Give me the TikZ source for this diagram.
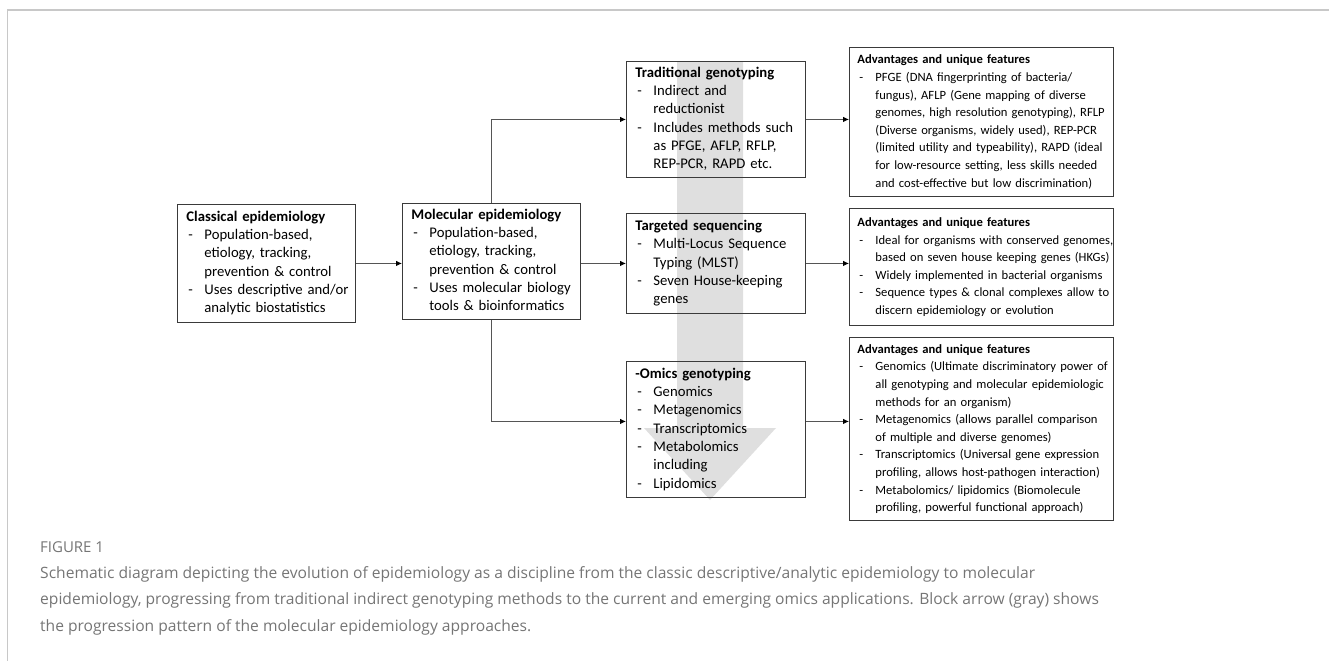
\documentclass[tikz,border=0pt]{standalone}
\usepackage{fontspec}
\setmainfont{Carlito}
\newfontfamily\capfont{Open Sans}
\usetikzlibrary{arrows.meta,calc}
\definecolor{boxline}{HTML}{3A3A3A}
\definecolor{conline}{HTML}{555555}
\definecolor{blockgray}{HTML}{DFDFDF}
\definecolor{frameline}{HTML}{C8C8C8}
\definecolor{captext}{HTML}{757575}
\newcommand{\smallboxfont}{\fontsize{14.7}{18.3}\selectfont}
\newcommand{\advfont}{\fontsize{12.6}{17.6}\selectfont}
\newcommand{\boxtab}[2]{\noindent\begin{tabular}{@{\hspace{2pt}}p{16pt}@{}l@{}}\multicolumn{2}{@{}l@{}}{\textbf{#1}}\\#2\end{tabular}}
\tikzset{
  box/.style={draw=boxline, line width=0.9pt, anchor=north west, inner xsep=9pt, inner ysep=0pt, font=\smallboxfont},
  advbox/.style={box, inner xsep=8pt, font=\advfont},
  con/.style={draw=conline, line width=0.8pt, -{Latex[length=6pt,width=5.5pt,color=black]}},
  captxt/.style={anchor=base west, inner sep=0pt, text=captext, font=\capfont\fontsize{15.6}{26}\selectfont}
}
\begin{document}
\begin{tikzpicture}[x=1pt,y=1pt]
\useasboundingbox (0,0) rectangle (1329,-661);
% frame
\draw[frameline, line width=1.2pt] (7,-10) -- (1329,-10);
\draw[frameline, line width=0.8pt] (7,-10) -- (7,-661);
% gray block arrow
\fill[blockgray] (677,-61) -- (743,-61) -- (743,-428) -- (776,-428) -- (710,-500) -- (644,-428) -- (677,-428) -- cycle;
% boxes
\node[box, text width=160pt, minimum height=118pt] (classical) at (177,-204)
  {\boxtab{Classical epidemiology}{-&Population-based,\\ &etiology, tracking,\\ &prevention \& control\\ -&Uses descriptive and/or\\ &analytic biostatistics}};
\node[box, text width=160pt, minimum height=116pt] (molecular) at (402,-203)
  {\boxtab{Molecular epidemiology}{-&Population-based,\\ &etiology, tracking,\\ &prevention \& control\\ -&Uses molecular biology\\ &tools \& bioinformatics}};
\node[box, text width=161pt, minimum height=116pt] (traditional) at (626,-61)
  {\boxtab{Traditional genotyping}{-&Indirect and\\ &reductionist\\ -&Includes methods such\\ &as PFGE, AFLP, RFLP,\\ &REP-PCR, RAPD etc.}};
\node[box, text width=161pt, minimum height=100pt] (targeted) at (626,-213)
  {\boxtab{Targeted sequencing}{-&Multi-Locus Sequence\\ &Typing (MLST)\\ -&Seven House-keeping\\ &genes}};
\node[box, text width=161pt, minimum height=136pt] (omics) at (626,-361)
  {\boxtab{-Omics genotyping}{-&Genomics\\ -&Metagenomics\\ -&Transcriptomics\\ -&Metabolomics\\ &including\\ -&Lipidomics}};
\node[advbox, text width=248pt, minimum height=149pt] (adv1) at (849,-47)
  {\boxtab{Advantages and unique features}{-&PFGE (DNA fingerprinting of bacteria/\\ &fungus), AFLP (Gene mapping of diverse\\ &genomes, high resolution genotyping), RFLP\\ &(Diverse organisms, widely used), REP-PCR\\ &(limited utility and typeability), RAPD (ideal\\ &for low-resource setting, less skills needed\\ &and cost-effective but low discrimination)}};
\node[advbox, text width=248pt, minimum height=117pt] (adv2) at (849,-208)
  {\boxtab{Advantages and unique features}{-&Ideal for organisms with conserved genomes,\\ &based on seven house keeping genes (HKGs)\\ -&Widely implemented in bacterial organisms\\ -&Sequence types \& clonal complexes allow to\\ &discern epidemiology or evolution}};
\node[advbox, text width=248pt, minimum height=183pt] (adv3) at (849,-337)
  {\boxtab{Advantages and unique features}{-&Genomics (Ultimate discriminatory power of\\ &all genotyping and molecular epidemiologic\\ &methods for an organism)\\ -&Metagenomics (allows parallel comparison\\ &of multiple and diverse genomes)\\ -&Transcriptomics (Universal gene expression\\ &profiling, allows host-pathogen interaction)\\ -&Metabolomics/ lipidomics (Biomolecule\\ &profiling, powerful functional approach)}};
% connectors
\draw[con] (classical.east) -- (classical.east -| molecular.west);
\draw[con] (molecular.north) |- (traditional.west);
\draw[con] (molecular.east |- targeted.west) -- (targeted.west);
\draw[con] (molecular.south) |- ([yshift=8pt]omics.west);
\draw[con] (traditional.east) -- (traditional.east -| adv1.west);
\draw[con] (targeted.east) -- (targeted.east -| adv2.west);
\draw[con] ([yshift=8pt]omics.east) -- ([yshift=8pt]omics.east -| adv3.west);
% caption
\node[captxt, font=\capfont\fontsize{15}{17}\selectfont] (fig) at (40,-552) {FIGURE 1};
\node[captxt] (cap1) at (40,-578) {Schematic diagram depicting the evolution of epidemiology as a discipline from the classic descriptive/analytic epidemiology to molecular};
\node[captxt] (cap2) at (40,-604.5) {epidemiology, progressing from traditional indirect genotyping methods to the current and emerging omics applications. Block arrow (gray) shows};
\node[captxt] (cap3) at (40,-631) {the progression pattern of the molecular epidemiology approaches.};
\end{tikzpicture}
\end{document}
